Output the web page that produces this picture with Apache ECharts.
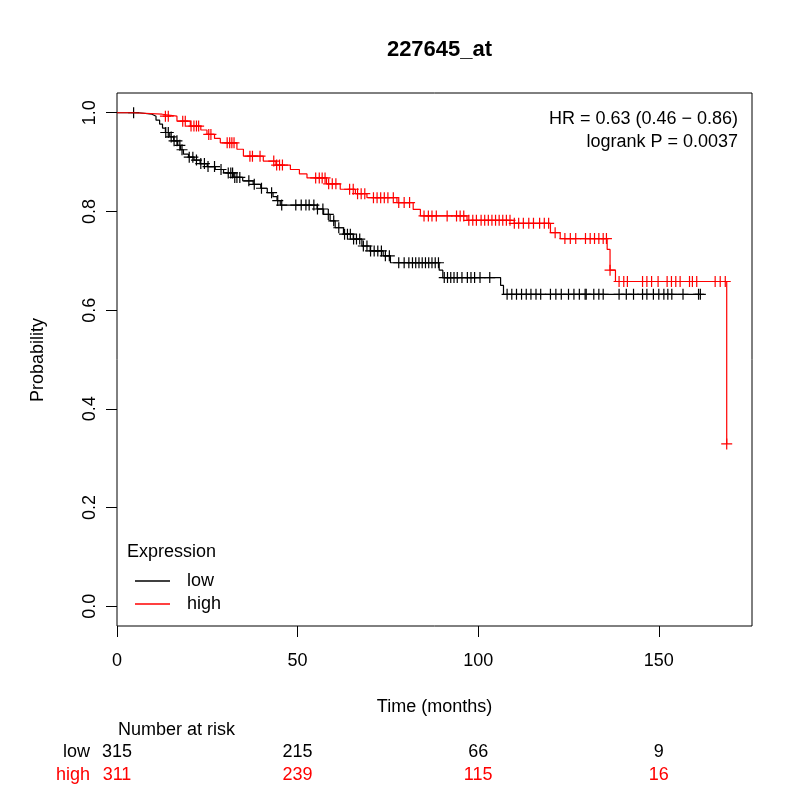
<!DOCTYPE html>
<html>
<head>
<meta charset="utf-8">
<script src="https://cdn.jsdelivr.net/npm/echarts@6/dist/echarts.min.js"></script>
<style>
  html, body { margin: 0; padding: 0; background: #fff; }
  #main { width: 800px; height: 800px; }
</style>
</head>
<body>
<div id="main"></div>
<script>
/************************** data **************************/
// step points: [time (months), survival after the step]
var lowSteps = [
    [0, 1.0], [6.0, 0.997], [9.7, 0.993], [10.8, 0.985], [11.8, 0.977], [12.6, 0.969],
    [13.4, 0.960], [14.6, 0.951], [15.7, 0.943], [16.8, 0.934], [17.6, 0.925], [18.4, 0.916],
    [19.8, 0.910], [21.3, 0.904], [23.0, 0.897], [25.0, 0.891], [27.2, 0.885], [29.5, 0.878],
    [32.2, 0.869], [34.8, 0.862], [37.7, 0.855], [39.8, 0.847], [41.6, 0.838], [43.2, 0.830],
    [44.3, 0.822], [45.2, 0.813], [55.4, 0.805], [57.2, 0.794], [59.0, 0.781], [60.4, 0.767],
    [62.7, 0.754], [65.4, 0.744], [67.8, 0.730], [70.1, 0.720], [73.7, 0.710], [75.7, 0.696],
    [89.2, 0.681], [90.2, 0.666], [106.2, 0.650], [107.0, 0.632]
];
var lowEnd = 161.5;
var lowCensor = [
    4.6, 13.5, 14.2, 15.0, 15.8, 16.6, 17.4, 18.0, 20.0, 21.0, 22.0, 23.2, 24.2, 25.2,
    27.0, 28.8, 30.8, 31.5, 32.0, 32.6, 33.2, 34.0, 36.5, 38.0, 40.0, 42.8, 44.5, 45.6,
    49.5, 51.0, 52.3, 53.2, 54.5, 55.5, 57.0, 58.5, 60.0, 61.4, 63.0, 63.8, 64.6, 65.5,
    66.3, 67.2, 68.2, 69.2, 70.2, 71.2, 72.2, 73.2, 74.3, 75.4, 78.0, 79.5, 80.8, 81.8,
    82.7, 83.6, 84.5, 85.4, 86.3, 87.2, 88.1, 89.0, 90.6, 91.5, 92.4, 93.3, 94.2, 95.5,
    97.0, 98.0, 99.0, 100.5, 103.2, 108.0, 109.3, 110.6, 112.0, 113.3, 114.6, 116.0,
    117.3, 120.0, 121.5, 123.0, 125.0, 126.5, 128.0, 129.6, 129.9, 132.0, 133.4, 134.6,
    139.0, 141.0, 143.0, 145.5, 146.7, 148.5, 150.0, 151.4, 152.5, 153.6, 156.7, 161.0, 161.5
];

var highSteps = [
    [0, 1.0], [4.5, 0.997], [12.5, 0.993], [16.6, 0.983], [20.3, 0.973], [23.2, 0.965],
    [24.9, 0.956], [27.0, 0.948], [28.6, 0.939], [33.2, 0.926], [35.0, 0.912], [40.5, 0.902],
    [44.0, 0.894], [48.0, 0.885], [50.5, 0.876], [52.6, 0.868], [58.0, 0.856], [61.8, 0.845],
    [66.0, 0.836], [69.2, 0.828], [77.5, 0.818], [82.0, 0.804], [84.0, 0.791], [96.9, 0.782],
    [110.0, 0.776], [120.0, 0.757], [122.7, 0.745], [135.7, 0.723], [136.5, 0.681],
    [138.0, 0.658], [168.8, 0.329]
];
var highEnd = 168.8;
var highCensor = [
    13.4, 14.2, 18.2, 18.9, 20.5, 21.3, 22.0, 22.6, 25.4, 26.0, 30.5, 31.2, 31.8, 32.4,
    36.8, 37.5, 39.6, 43.4, 44.2, 45.0, 45.8, 55.0, 56.0, 56.8, 57.6, 58.6, 59.6, 60.6,
    64.4, 65.4, 66.6, 67.6, 68.6, 71.0, 72.0, 73.0, 74.0, 75.0, 76.5, 78.0, 79.5, 81.0,
    85.0, 86.2, 87.2, 88.4, 91.4, 94.0, 95.0, 96.0, 97.4, 98.5, 99.5, 100.8, 101.8, 102.8,
    103.8, 104.8, 105.8, 106.8, 107.8, 108.8, 110.0, 111.2, 112.5, 114.0, 115.3, 117.0,
    118.3, 119.5, 121.3, 124.0, 125.5, 127.0, 129.7, 131.0, 132.2, 133.4, 134.6, 135.5,
    136.5, 139.0, 140.3, 141.3, 145.5, 146.7, 148.0, 149.8, 152.3, 153.5, 154.7, 155.9,
    158.5, 159.3, 160.5, 165.6, 167.0, 168.4, 168.8
];

var riskTimes = [0, 50, 100, 150];
var riskLow = [315, 215, 66, 9];
var riskHigh = [311, 239, 115, 16];

var xTicks = [0, 50, 100, 150];
var yTicks = [0, 0.2, 0.4, 0.6, 0.8, 1.0];

var RED = '#ff0000';
var FONT = 'Liberation Sans, Arial, Helvetica, sans-serif';
var PLUS = 'path://M0,5L10,5M5,0L5,10';

/************************** helpers **************************/
function stepLine(steps, end) {
    var d = steps.slice();
    d.push([end, steps[steps.length - 1][1]]);
    return d;
}
function survAt(steps, t) {
    var s = steps[0][1];
    for (var i = 0; i < steps.length; i++) {
        if (steps[i][0] <= t) s = steps[i][1];
    }
    return s;
}
function censorPts(steps, times) {
    return times.map(function (t) { return [t, survAt(steps, t)]; });
}

/************************** chart **************************/
var chart = echarts.init(document.getElementById('main'));

var option = {
    animation: false,
    backgroundColor: '#fff',
    textStyle: { fontFamily: FONT },
    title: {
        text: '227645_at',
        left: 434.5,
        top: 34,
        textAlign: 'center',
        textStyle: { fontSize: 22, fontWeight: 'bold', color: '#000', fontFamily: FONT }
    },
    legend: {
        data: ['low', 'high'],
        orient: 'vertical',
        left: 135,
        top: 572,
        padding: 0,
        itemGap: 5,
        itemWidth: 35,
        itemHeight: 1.5,
        icon: 'rect',
        textStyle: { fontSize: 18, color: '#000', fontFamily: FONT, padding: [0, 0, 0, 12] }
    },
    grid: [
        { left: 117, right: 48, top: 93, height: 533, show: true,
          borderColor: '#000', borderWidth: 1, backgroundColor: 'transparent' },
        { left: 117, right: 48, top: 741, height: 46 }
    ],
    xAxis: [{
        type: 'value', gridIndex: 0, min: 0, max: 175.8,
        splitLine: { show: false },
        axisLine: { show: false, onZero: false },
        axisTick: { show: true, length: 11, lineStyle: { color: '#000' }, customValues: xTicks },
        axisLabel: { fontSize: 18, color: '#000', margin: 26, fontFamily: FONT, customValues: xTicks }
    }, {
        type: 'value', gridIndex: 1, min: 0, max: 175.8, show: false
    }],
    yAxis: [{
        type: 'value', gridIndex: 0, min: -0.04, max: 1.04,
        splitLine: { show: false },
        axisLine: { show: false, onZero: false },
        axisTick: { show: true, length: 11, lineStyle: { color: '#000' }, customValues: yTicks },
        axisLabel: {
            fontSize: 18, color: '#000', margin: 18, rotate: 90, fontFamily: FONT,
            customValues: yTicks,
            formatter: function (v) { return v.toFixed(1); }
        }
    }, {
        type: 'category', gridIndex: 1, data: ['high', 'low'],
        axisLine: { show: false }, axisTick: { show: false }, splitLine: { show: false },
        axisLabel: {
            fontSize: 18, margin: 27, fontFamily: FONT, interval: 0,
            color: function (v) { return v === 'high' ? RED : '#000'; }
        }
    }],
    graphic: [
        { type: 'text', x: 38, y: 360, rotation: Math.PI / 2,
          style: { text: 'Probability', font: '18px ' + FONT, fill: '#000',
                   align: 'center', verticalAlign: 'middle', textAlign: 'center', textVerticalAlign: 'middle' } },
        { type: 'text', x: 434.5, y: 707,
          style: { text: 'Time (months)', font: '18px ' + FONT, fill: '#000',
                   align: 'center', verticalAlign: 'middle', textAlign: 'center', textVerticalAlign: 'middle' } },
        { type: 'text', x: 738, y: 119,
          style: { text: 'HR = 0.63 (0.46 \u2212 0.86)', font: '18px ' + FONT, fill: '#000',
                   align: 'right', verticalAlign: 'middle', textAlign: 'right', textVerticalAlign: 'middle' } },
        { type: 'text', x: 738, y: 142,
          style: { text: 'logrank P = 0.0037', font: '18px ' + FONT, fill: '#000',
                   align: 'right', verticalAlign: 'middle', textAlign: 'right', textVerticalAlign: 'middle' } },
        { type: 'text', x: 127, y: 552,
          style: { text: 'Expression', font: '18px ' + FONT, fill: '#000',
                   align: 'left', verticalAlign: 'middle', textAlign: 'left', textVerticalAlign: 'middle' } },
        { type: 'text', x: 118, y: 730,
          style: { text: 'Number at risk', font: '18px ' + FONT, fill: '#000',
                   align: 'left', verticalAlign: 'middle', textAlign: 'left', textVerticalAlign: 'middle' } }
    ],
    series: [{
        name: 'low', type: 'line', step: 'end', xAxisIndex: 0, yAxisIndex: 0,
        data: stepLine(lowSteps, lowEnd),
        showSymbol: false, symbol: 'none', clip: false,
        itemStyle: { color: '#000' },
        lineStyle: { color: '#000', width: 1.2 }
    }, {
        name: 'high', type: 'line', step: 'end', xAxisIndex: 0, yAxisIndex: 0,
        data: stepLine(highSteps, highEnd),
        showSymbol: false, symbol: 'none', clip: false,
        itemStyle: { color: RED },
        lineStyle: { color: RED, width: 1.2 }
    }, {
        name: 'low censored', type: 'scatter', xAxisIndex: 0, yAxisIndex: 0,
        data: censorPts(lowSteps, lowCensor),
        symbol: PLUS, symbolSize: 11, clip: false,
        itemStyle: { color: 'transparent', borderColor: '#000', borderWidth: 1.2, opacity: 1 }
    }, {
        name: 'high censored', type: 'scatter', xAxisIndex: 0, yAxisIndex: 0,
        data: censorPts(highSteps, highCensor),
        symbol: PLUS, symbolSize: 11, clip: false,
        itemStyle: { color: 'transparent', borderColor: RED, borderWidth: 1.2, opacity: 1 }
    }, {
        name: 'risk low', type: 'scatter', xAxisIndex: 1, yAxisIndex: 1,
        data: riskTimes.map(function (t, i) { return [t, 'low', riskLow[i]]; }),
        symbolSize: 1, itemStyle: { color: 'transparent', opacity: 1 },
        label: { show: true, position: 'inside', fontSize: 18, color: '#000', fontFamily: FONT,
                 textBorderWidth: 0, formatter: function (p) { return p.value[2]; } }
    }, {
        name: 'risk high', type: 'scatter', xAxisIndex: 1, yAxisIndex: 1,
        data: riskTimes.map(function (t, i) { return [t, 'high', riskHigh[i]]; }),
        symbolSize: 1, itemStyle: { color: 'transparent', opacity: 1 },
        label: { show: true, position: 'inside', fontSize: 18, color: RED, fontFamily: FONT,
                 textBorderWidth: 0, formatter: function (p) { return p.value[2]; } }
    }]
};

chart.setOption(option);
</script>
</body>
</html>
